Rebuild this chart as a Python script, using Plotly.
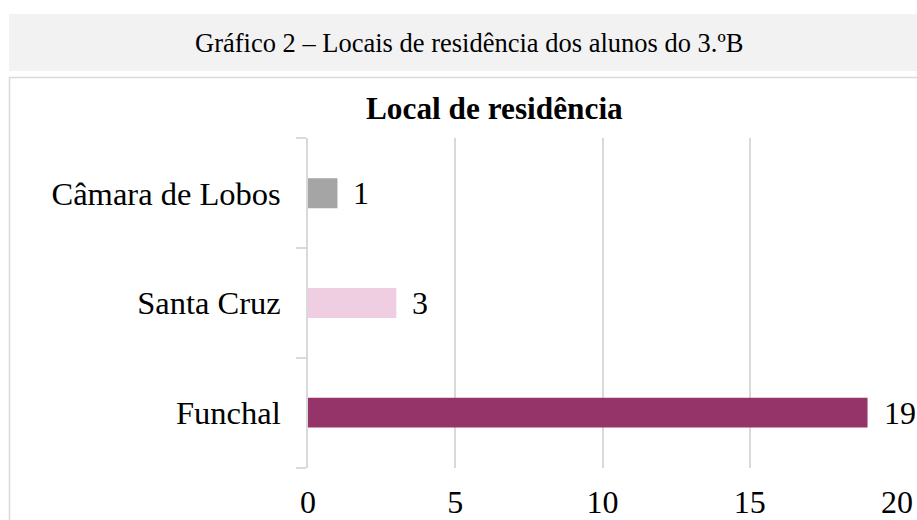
import plotly.graph_objects as go

header_text = "Gráfico 2 – Locais de residência dos alunos do 3.ºB"
chart_title = "Local de residência"
categories = ["Funchal", "Santa Cruz", "Câmara de Lobos"]
values = [19, 3, 1]
bar_colors = ["#943469", "#f0cee2", "#a5a5a5"]
x_ticks = [0, 5, 10, 15, 20]

W, H = 917, 520
FONT = "Liberation Serif, Times New Roman, serif"

def px_x(p):
    return p / W

def px_y(p):
    return (H - p) / H

fig = go.Figure()
fig.add_trace(go.Bar(
    y=categories, x=values, orientation="h",
    marker=dict(color=bar_colors, line=dict(width=0)),
    hoverinfo="skip",
))

annotations = []
for c, v in zip(categories, values):
    annotations.append(dict(
        x=v, y=c, xref="x", yref="y", text=str(v), showarrow=False,
        xanchor="left", yanchor="middle", xshift=14,
        font=dict(family=FONT, size=32, color="#000000"),
    ))
annotations.append(dict(
    x=px_x(469), y=px_y(42.5), xref="paper", yref="paper", text=header_text,
    showarrow=False, xanchor="center", yanchor="middle",
    font=dict(family=FONT, size=26.5, color="#000000"),
))
annotations.append(dict(
    x=px_x(494.5), y=px_y(108), xref="paper", yref="paper",
    text="<b>" + chart_title + "</b>",
    showarrow=False, xanchor="center", yanchor="middle",
    font=dict(family=FONT, size=31.3, color="#000000"),
))

shapes = [
    dict(type="rect", xref="paper", yref="paper",
         x0=px_x(9), x1=1.05, y0=px_y(71), y1=px_y(14),
         fillcolor="#f2f2f2", line=dict(width=0), layer="below"),
    dict(type="rect", xref="paper", yref="paper",
         x0=px_x(9.5), x1=1.05, y0=-0.05, y1=px_y(77.5),
         fillcolor="rgba(0,0,0,0)", line=dict(color="#d9d9d9", width=1.5), layer="below"),
]

fig.update_layout(
    width=W, height=H, autosize=False,
    margin=dict(l=0, r=0, t=0, b=0, pad=0),
    paper_bgcolor="#ffffff", plot_bgcolor="#ffffff",
    showlegend=False,
    bargap=0.727,
    annotations=annotations,
    shapes=shapes,
    xaxis=dict(
        domain=[px_x(308), px_x(897)],
        range=[0, 20], tickvals=x_ticks, ticktext=[str(t) for t in x_ticks],
        showgrid=True, gridcolor="#d9d9d9", gridwidth=1.5,
        zeroline=False, showline=False, ticks="",
        tickfont=dict(family=FONT, size=32, color="#000000"),
        ticklabelstandoff=12,
        automargin=False,
        fixedrange=True,
    ),
    yaxis=dict(
        domain=[px_y(467.5), px_y(138.3)],
        type="category", categoryorder="array", categoryarray=categories,
        showline=True, linecolor="#d9d9d9", linewidth=1.5,
        ticks="outside", tickson="boundaries", ticklen=10,
        tickcolor="#d9d9d9", tickwidth=1.5,
        showgrid=False, zeroline=False,
        tickfont=dict(family=FONT, size=32.5, color="#000000"),
        ticklabelstandoff=19,
        automargin=False,
        fixedrange=True,
    ),
)

post = ("document.body.style.margin='0';"
        "document.body.style.padding='0';"
        "document.body.style.overflow='hidden';")

fig.write_html("out.html", post_script=post, config={"displayModeBar": False})
